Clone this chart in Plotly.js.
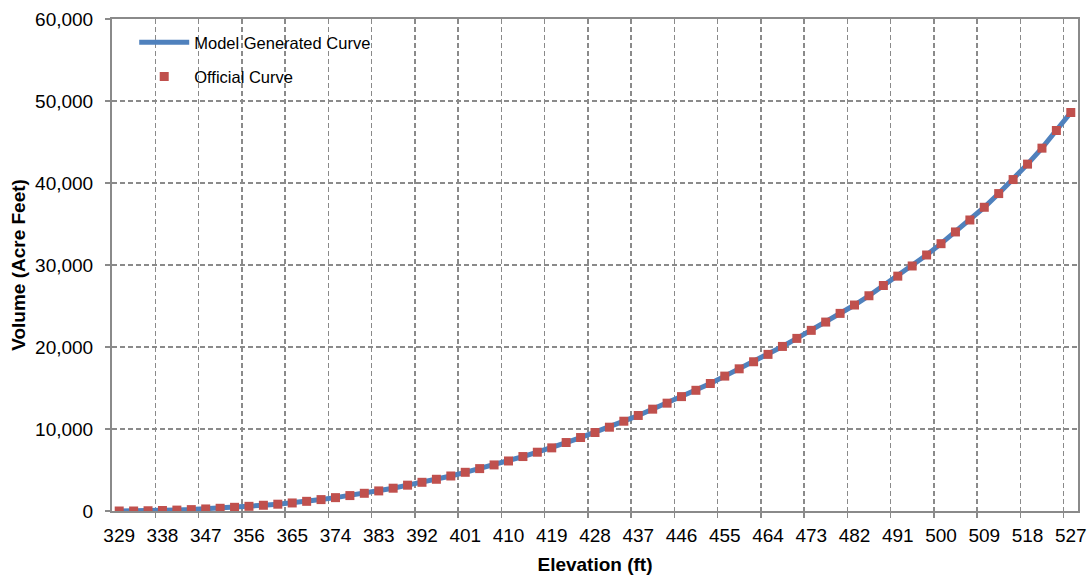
<!DOCTYPE html>
<html>
<head>
<meta charset="utf-8">
<script src="https://cdn.plot.ly/plotly-3.0.1.min.js"></script>
<style>html,body{margin:0;padding:0;background:#fff;}#chart{width:1088px;height:576px;}</style>
</head>
<body>
<div id="chart"></div>
<script>
// Elevation categories (ft), every 3 ft
const elevation = [329,332,335,338,341,344,347,350,353,356,359,362,365,368,371,374,377,380,383,386,389,392,395,398,401,404,407,410,413,416,419,422,425,428,431,434,437,440,443,446,449,452,455,458,461,464,467,470,473,476,479,482,485,488,491,494,497,500,503,506,509,512,515,518,521,524,527];
// Model generated curve (acre feet)
const modelVolume = [0,0,30,60,110,170,250,330,450,570,700,830,980,1180,1390,1630,1880,2160,2450,2780,3150,3500,3870,4270,4720,5170,5620,6100,6640,7170,7700,8350,8960,9570,10220,10950,11650,12420,13150,13950,14720,15550,16450,17340,18200,19100,20070,21050,22030,23040,24100,25120,26250,27450,28640,29880,31220,32600,34030,35490,37040,38710,40420,42300,44250,46400,48600];
// Official curve (acre feet)
const officialVolume = [0,0,30,60,110,170,250,330,450,570,700,830,980,1180,1390,1630,1880,2160,2450,2780,3150,3500,3870,4270,4720,5170,5620,6100,6640,7170,7700,8350,8960,9570,10220,10950,11650,12420,13150,13950,14720,15550,16450,17340,18200,19100,20070,21050,22030,23040,24100,25120,26250,27500,28640,29880,31220,32600,34030,35490,37040,38710,40420,42300,44250,46400,48600];
// Tick labels on x axis
const xTickLabels = [329,338,347,356,365,374,383,392,401,410,419,428,437,446,455,464,473,482,491,500,509,518,527];
// Category boundaries where Excel draws the gridlines (between categories)
const xGridVals = xTickLabels.slice(0, -1).map(v => v + 7.5);

const FONT = 'Arial, "Liberation Sans", sans-serif';
const GRID = '#8a8a8a';

const traces = [
  {
    x: elevation, y: modelVolume, type: 'scatter', mode: 'lines',
    name: 'Model Generated Curve', legendgroup: 'a',
    line: {color: '#4F81BD', width: 5}
  },
  {
    x: elevation, y: officialVolume, type: 'scatter', mode: 'markers',
    name: 'Official Curve', legendgroup: 'b',
    marker: {symbol: 'square', color: '#C0504D', size: 9, line: {width: 0}}
  },
  {
    x: [elevation[0]], y: [null], xaxis: 'x2', type: 'scatter', mode: 'markers',
    showlegend: false, hoverinfo: 'skip'
  }
];

const xr = [327.5, 528.5];
const layout = {
  width: 1088, height: 576,
  margin: {l: 112, r: 10, t: 19, b: 65},
  paper_bgcolor: '#ffffff', plot_bgcolor: '#ffffff',
  font: {family: FONT, color: '#000000', size: 19},
  showlegend: true,
  legend: {
    x: 0.023, y: 0.988, xanchor: 'left', yanchor: 'top',
    bgcolor: 'rgba(0,0,0,0)', borderwidth: 0,
    font: {family: FONT, size: 16.5, color: '#000000'},
    traceorder: 'grouped', tracegroupgap: 10, itemwidth: 50
  },
  xaxis: {
    range: xr, type: 'linear',
    tickmode: 'array', tickvals: xTickLabels, ticktext: xTickLabels.map(String),
    ticks: '', showgrid: false, zeroline: false,
    showline: true, linecolor: '#8a8a8a', linewidth: 2, mirror: true,
    tickfont: {family: FONT, size: 19, color: '#000000'},
    ticklabelstandoff: 6,
    title: {text: '<b>Elevation (ft)</b>', font: {family: FONT, size: 19, color: '#000000'}, standoff: 13}
  },
  xaxis2: {
    range: xr, type: 'linear', overlaying: 'x', anchor: 'y', side: 'bottom',
    tickmode: 'array', tickvals: xGridVals, showticklabels: false,
    ticks: 'outside', ticklen: 6, tickwidth: 1.5, tickcolor: GRID,
    showgrid: true, gridcolor: GRID, gridwidth: 1.5, griddash: '5px,3px',
    zeroline: false, showline: false
  },
  yaxis: {
    range: [0, 60000], tickmode: 'linear', tick0: 0, dtick: 10000,
    tickformat: ',d',
    ticks: 'outside', ticklen: 5, tickwidth: 1.5, tickcolor: GRID,
    showgrid: true, gridcolor: GRID, gridwidth: 1.5, griddash: '5px,3px',
    zeroline: false, showline: true, linecolor: '#8a8a8a', linewidth: 2, mirror: true,
    tickfont: {family: FONT, size: 19, color: '#000000'},
    ticklabelstandoff: 8,
    title: {text: '<b>Volume (Acre Feet)</b>', font: {family: FONT, size: 19, color: '#000000'}, standoff: 4}
  }
};

Plotly.newPlot('chart', traces, layout, {displayModeBar: false, staticPlot: true});
</script>
</body>
</html>
